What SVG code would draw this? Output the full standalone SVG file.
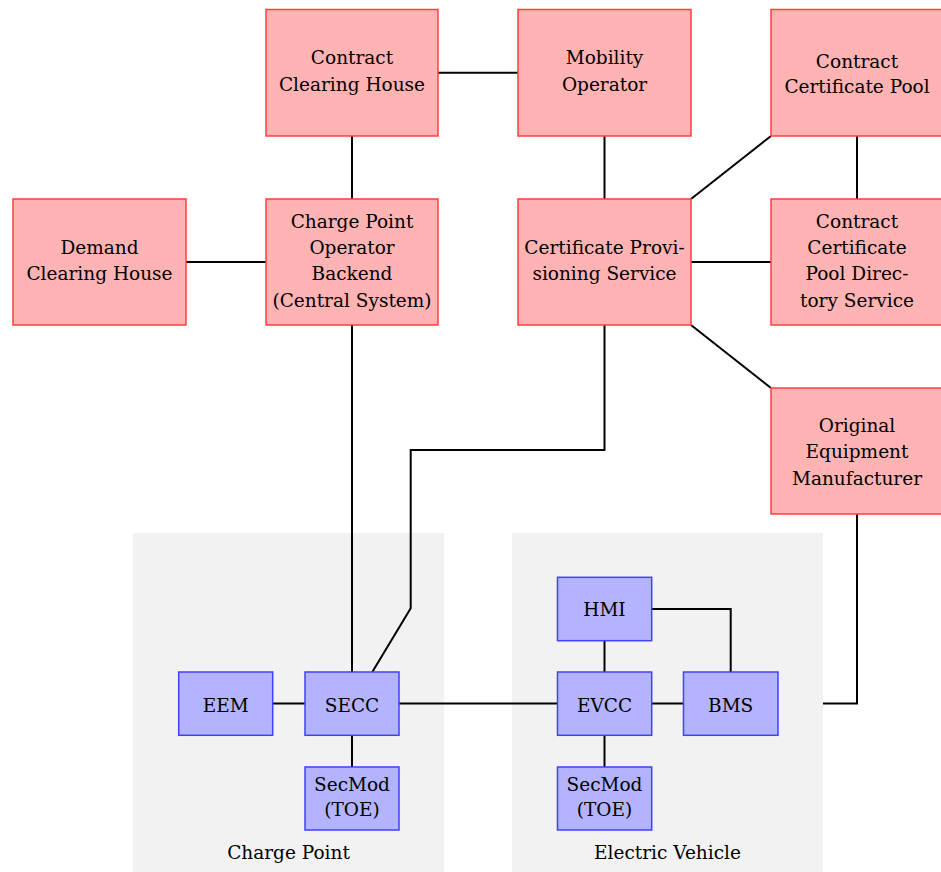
<svg xmlns="http://www.w3.org/2000/svg" width="941" height="872" viewBox="0 0 941 872">
<style>
.bg{fill:#f2f2f2;stroke:none}
.r{fill:#ffb3b3;stroke:#ff4040;stroke-width:1.5}
.b{fill:#b3b3ff;stroke:#4040ff;stroke-width:1.5}
text{font-family:'DejaVu Serif',serif;font-size:18.5px;fill:#000;text-anchor:middle}
.c{fill:none;stroke:#000;stroke-width:2;stroke-linejoin:miter}
</style>
<rect width="941" height="872" fill="#fff"/>
<g id="charge-point-area">
<rect class="bg" x="133" y="533" width="311" height="339"/>
<text x="288.5" y="858.5">Charge Point</text>
</g>
<g id="electric-vehicle-area">
<rect class="bg" x="512" y="533" width="311" height="339"/>
<text x="667.5" y="858.5">Electric Vehicle</text>
</g>
<g id="connectors">
<path class="c" d="M438 72.75H518"/>
<path class="c" d="M352 136V199"/>
<path class="c" d="M186 262H266"/>
<path class="c" d="M604.5 136V199"/>
<path class="c" d="M771 136L691 199"/>
<path class="c" d="M857 136V199"/>
<path class="c" d="M691 262H771"/>
<path class="c" d="M691 325L771 388"/>
<path class="c" d="M352 325V672"/>
<path class="c" d="M604.5 325V450H410.7V608.3L372.3 672"/>
<path class="c" d="M857 514V703.5H823"/>
<path class="c" d="M399 703.5H557.5"/>
<path class="c" d="M273 703.5H305"/>
<path class="c" d="M352 735.3V767"/>
<path class="c" d="M604.5 640.7V672"/>
<path class="c" d="M651.7 703.5H683.5"/>
<path class="c" d="M651.7 609H730.7V672"/>
<path class="c" d="M604.5 735.3V767"/>
</g>
<g id="contract-clearing-house">
<rect class="r" x="266" y="9.5" width="172" height="126.5"/>
<text x="352" y="64.3">Contract</text>
<text x="352" y="90.7">Clearing House</text>
</g>
<g id="mobility-operator">
<rect class="r" x="518" y="9.5" width="173" height="126.5"/>
<text x="604.5" y="64.3">Mobility</text>
<text x="604.5" y="90.7">Operator</text>
</g>
<g id="contract-certificate-pool">
<rect class="r" x="771" y="9.5" width="173" height="126.5"/>
<text x="857" y="67.8">Contract</text>
<text x="857" y="93.3">Certificate Pool</text>
</g>
<g id="demand-clearing-house">
<rect class="r" x="13" y="199" width="173" height="126"/>
<text x="99.5" y="254">Demand</text>
<text x="99.5" y="280.4">Clearing House</text>
</g>
<g id="cpo-backend">
<rect class="r" x="266" y="199" width="172" height="126"/>
<text x="352" y="227.7">Charge Point</text>
<text x="352" y="254">Operator</text>
<text x="352" y="280.3">Backend</text>
<text x="352" y="306.6">(Central System)</text>
</g>
<g id="certificate-provisioning-service">
<rect class="r" x="518" y="199" width="173" height="126"/>
<text x="604.5" y="254">Certificate Provi-</text>
<text x="604.5" y="280.4">sioning Service</text>
</g>
<g id="ccp-directory-service">
<rect class="r" x="771" y="199" width="173" height="126"/>
<text x="857" y="227.7">Contract</text>
<text x="857" y="254">Certificate</text>
<text x="857" y="280.3">Pool Direc-</text>
<text x="857" y="306.6">tory Service</text>
</g>
<g id="oem">
<rect class="r" x="771" y="388" width="173" height="126"/>
<text x="857" y="431.7">Original</text>
<text x="857" y="458.3">Equipment</text>
<text x="857" y="484.5">Manufacturer</text>
</g>
<g id="eem">
<rect class="b" x="178.7" y="672" width="94" height="63.3"/>
<text x="225.7" y="711.5">EEM</text>
</g>
<g id="secc">
<rect class="b" x="305" y="672" width="94" height="63.3"/>
<text x="352" y="711.5">SECC</text>
</g>
<g id="secmod-cp">
<rect class="b" x="305" y="767" width="94" height="63"/>
<text x="352" y="790.5">SecMod</text>
<text x="352" y="816">(TOE)</text>
</g>
<g id="hmi">
<rect class="b" x="557.5" y="577.3" width="94.2" height="63.4"/>
<text x="604.5" y="616.3">HMI</text>
</g>
<g id="evcc">
<rect class="b" x="557.5" y="672" width="94.2" height="63.3"/>
<text x="604.5" y="711.5">EVCC</text>
</g>
<g id="bms">
<rect class="b" x="683.5" y="672" width="94.5" height="63.3"/>
<text x="730.7" y="711.5">BMS</text>
</g>
<g id="secmod-ev">
<rect class="b" x="557.5" y="767" width="94.2" height="63"/>
<text x="604.5" y="790.5">SecMod</text>
<text x="604.5" y="816">(TOE)</text>
</g>
</svg>
